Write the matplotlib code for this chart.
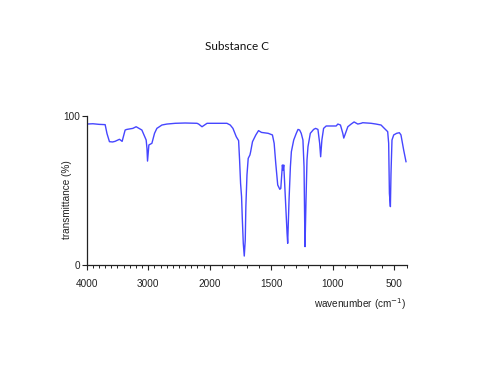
import numpy as np
import matplotlib
matplotlib.use("Agg")
import matplotlib.pyplot as plt
from matplotlib.ticker import FixedLocator

wavenumber = [4000, 3900, 3800, 3700, 3670, 3630, 3580, 3540, 3467, 3424, 3375, 3348, 3250, 3196,
              3103, 3033, 3020, 3011, 2989, 2940, 2897, 2859, 2777, 2696, 2560, 2400, 2206, 2180,
              2125, 2043, 2000, 1860, 1833, 1811, 1784, 1765, 1757, 1749, 1741, 1735, 1727, 1719,
              1711, 1706, 1697, 1687, 1673, 1667, 1652, 1625, 1603, 1579, 1525, 1490, 1476, 1463,
              1447, 1430, 1422, 1409, 1404, 1398, 1384, 1371, 1366, 1355, 1344, 1336, 1317, 1296,
              1282, 1269, 1256, 1242, 1233, 1228, 1225, 1217, 1209, 1201, 1182, 1155, 1139, 1120,
              1106, 1098, 1088, 1074, 1053, 972, 958, 937, 918, 910, 896, 877, 850, 826, 796, 769,
              756, 688, 648, 607, 580, 553, 545, 539, 531, 526, 518, 504, 480, 458, 445, 423, 404]
transmittance = [94.4, 94.6, 94.2, 94.0, 88.0, 82.6, 82.4, 82.8, 84.2, 82.8, 90.4, 90.8, 91.5, 92.6,
                 90.4, 83.7, 78.0, 69.6, 80.4, 81.5, 88.2, 91.5, 93.75, 94.4, 94.9, 95.1, 94.9, 94.4,
                 92.6, 94.9, 94.9, 94.9, 93.75, 91.5, 85.9, 83.3, 70.3, 54.7, 45.8, 31.25, 14.5, 6.0,
                 16.7, 39.1, 60.3, 71.4, 73.7, 75.9, 82.6, 87.1, 90.0, 88.8, 88.2, 87.1, 81.5, 68.1,
                 53.6, 50.7, 51.3, 67.0, 63.6, 67.0, 43.5, 21.2, 14.5, 43.5, 65.8, 75.9, 83.7, 88.2,
                 90.8, 90.4, 88.2, 83.7, 65.8, 30.1, 12.3, 43.5, 70.3, 79.2, 88.2, 90.8, 91.5, 90.8,
                 81.5, 72.5, 83.7, 91.5, 93.1, 93.1, 94.4, 93.75, 88.2, 85.0, 88.2, 92.6, 94.4, 95.8,
                 94.4, 94.9, 95.3, 94.9, 94.4, 93.75, 91.5, 89.3, 81.5, 48.0, 39.1, 61.4, 83.7, 87.1,
                 88.2, 88.6, 87.1, 77.0, 69.2]

x_major = [4000, 3000, 2000, 1500, 1000, 500]
x_labels = ["4000", "3000", "2000", "1500", "1000", "500"]
y_ticks = [0, 100]
title = "Substance C"


def fwd(w):
    w = np.asarray(w, dtype=float)
    return np.where(w <= 2000, w, 2000 + (w - 2000) * 0.5)


def inv(p):
    p = np.asarray(p, dtype=float)
    return np.where(p <= 2000, p, 2000 + (p - 2000) * 2.0)


fig = plt.figure(figsize=(5, 3.75), dpi=100)
ax = fig.add_axes([0.1734, 0.2933, 0.6396, 0.3982])
ax.set_xscale("function", functions=(fwd, inv))
ax.plot(wavenumber, transmittance, color="#4646ff", lw=1.0)
ax.set_xlim(4000, 400)
ax.set_ylim(0, 100)

ax.spines["top"].set_visible(False)
ax.spines["right"].set_visible(False)
for s in ("left", "bottom"):
    ax.spines[s].set_linewidth(0.9)
    ax.spines[s].set_color("#222222")

ax.xaxis.set_major_locator(FixedLocator(x_major))
ax.set_xticklabels(x_labels)
ax.xaxis.set_minor_locator(FixedLocator(list(range(400, 4001, 100))))
ax.set_yticks(y_ticks)
ax.set_yticklabels([str(v) for v in y_ticks])

ax.tick_params(axis="x", which="major", length=3.8, width=0.8, pad=6.5,
               labelsize=7.2, colors="#222222", direction="out")
ax.tick_params(axis="x", which="minor", length=2.0, width=0.7, colors="#222222")
ax.tick_params(axis="y", which="major", length=3.5, width=0.8, pad=1.2,
               labelsize=7.2, colors="#222222")

for lab in ax.get_xticklabels() + ax.get_yticklabels():
    lab.set_family("Liberation Sans")

ax.set_ylabel("transmittance (%)", fontsize=7.2, family="Liberation Sans", color="#222222")
ax.yaxis.set_label_coords(-0.046, 0.44)
ax.set_xlabel("wavenumber (cm$^{-1}$)", fontsize=7.2, family="Liberation Sans", color="#222222")
ax.xaxis.set_label_coords(1.0, -0.21)
ax.xaxis.label.set_horizontalalignment("right")

fig.text(0.474, 1 - 47 / 375, title, ha="center", va="center", fontsize=8.5,
         family="Lato", color="#111111")

fig.savefig("out.png", dpi=100)
